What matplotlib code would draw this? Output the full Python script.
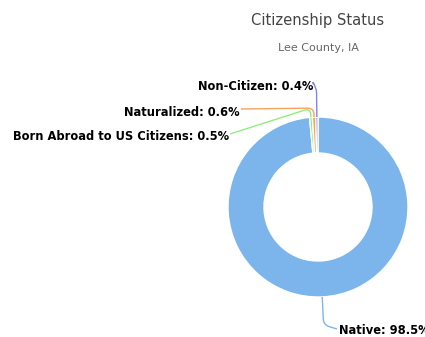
import numpy as np
import matplotlib
matplotlib.use("Agg")
import matplotlib.pyplot as plt
from matplotlib.path import Path
from matplotlib.patches import PathPatch

# Citizenship shares for Lee County, IA (percent)
categories = ["Native", "Born Abroad to US Citizens", "Naturalized", "Non-Citizen"]
values = [98.5, 0.5, 0.6, 0.4]
colors = ["#7cb5ec", "#90ed7d", "#f7a35c", "#8085e9"]

W, H = 425, 337
fig = plt.figure(figsize=(W / 100, H / 100), dpi=100)
ax = fig.add_axes([0, 0, 1, 1])
ax.set_xlim(0, W)
ax.set_ylim(0, H)
ax.set_aspect("equal")
ax.axis("off")

cx, cy = 318, H - 207
R = 90
ring = 36

wedges, _ = ax.pie(values, colors=colors, startangle=90, counterclock=False,
                   radius=R, center=(cx, cy), frame=True,
                   wedgeprops=dict(width=ring, edgecolor="white", linewidth=1))
ax.set_xlim(0, W)
ax.set_ylim(0, H)
ax.axis("off")

# label anchor (x, y in pixel rows from top), alignment, elbow radius
label_layout = {
    "Native": ((339, 330), "left", 118),
    "Born Abroad to US Citizens": ((229, 137), "right", 99),
    "Naturalized": ((240, 112), "right", 99),
    "Non-Citizen": ((313, 87), "right", 120),
}

for w, name, val, col in zip(wedges, categories, values, colors):
    mid = np.deg2rad((w.theta1 + w.theta2) / 2)
    ux, uy = np.cos(mid), np.sin(mid)
    (lx, ly_px), ha, rel = label_layout[name]
    ly = H - ly_px
    ex, ey = cx + R * ux, cy + R * uy
    bx, by = cx + rel * ux, cy + rel * uy
    if ha == "right":
        ax_, ay_ = lx + 1, ly + 3
    else:
        ax_, ay_ = lx - 2, ly + 1
    # smooth elbow between the radial leg and the leg to the label
    v1 = np.array([ex - bx, ey - by]); v1 /= np.hypot(*v1)
    v2 = np.array([ax_ - bx, ay_ - by]); v2 /= np.hypot(*v2)
    k = 6
    p1 = (bx + k * v1[0], by + k * v1[1])
    p2 = (bx + k * v2[0], by + k * v2[1])
    verts = [(ex, ey), p1, (bx, by), p2, (ax_, ay_)]
    codes = [Path.MOVETO, Path.LINETO, Path.CURVE3, Path.CURVE3, Path.LINETO]
    ax.add_patch(PathPatch(Path(verts, codes), facecolor="none",
                           edgecolor=col, linewidth=1))
    ax.text(lx, ly, f"{name}: {val}%", ha=ha, va="center",
            fontsize=8.3, fontweight="bold", color="black")

fig.text(318 / W, 1 - 20 / H, "Citizenship Status", ha="center", va="center",
         fontsize=10.6, color="#444444")
fig.text(318 / W, 1 - 48 / H, "Lee County, IA", ha="center", va="center",
         fontsize=8, color="#666666")

fig.savefig("out.png", dpi=100, facecolor="white")
